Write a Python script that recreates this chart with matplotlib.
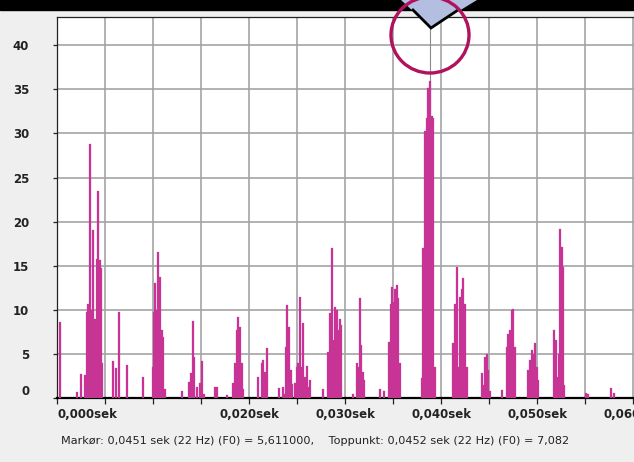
import matplotlib
matplotlib.use("Agg")
import matplotlib.pyplot as plt
from matplotlib.patches import Ellipse, Polygon, Rectangle
from matplotlib.transforms import ScaledTranslation
import numpy as np

# ---- data (time in ms, amplitude) ----
times_ms = [0.28, 2.08, 2.47, 2.92, 3.09, 3.26, 3.44, 3.61, 3.78, 3.96, 4.14, 4.30, 4.45, 4.61, 4.72,
            5.86, 6.15, 6.46, 7.32, 8.93,
            9.97, 10.10, 10.21, 10.39, 10.55, 10.73, 10.91, 11.07, 11.25,
            13.05, 13.75, 13.93, 14.14, 14.30, 14.55, 14.90, 15.14, 15.34, 16.46, 16.64, 17.68,
            18.36, 18.54, 18.72, 18.89, 19.06, 19.24, 19.41,
            20.97, 21.32, 21.49, 21.67, 21.84,
            23.16, 23.51, 23.68, 23.82, 23.99, 24.17, 24.34, 24.48, 24.79, 24.97, 25.14, 25.31, 25.49,
            25.66, 25.83, 26.04, 26.18, 26.39,
            27.74, 28.26, 28.44, 28.61, 28.78, 28.96, 29.14, 29.30, 29.48, 29.64,
            30.86, 31.22, 31.39, 31.56, 31.67, 31.84, 31.98,
            33.65, 34.09, 34.61, 34.76, 34.90, 35.03, 35.24, 35.39, 35.55, 35.73,
            37.99, 38.16, 38.33, 38.51, 38.68, 38.85, 39.03, 39.20, 39.38,
            41.28, 41.46, 41.64, 41.80, 41.98, 42.16, 42.32, 42.50, 42.68,
            44.24, 44.41, 44.58, 44.76, 44.93, 45.10,
            46.32, 46.84, 47.01, 47.19, 47.36, 47.53, 47.71,
            49.09, 49.27, 49.45, 49.61, 49.79, 49.97, 50.14,
            51.77, 51.95, 52.11, 52.29, 52.40, 52.57, 52.68, 52.81,
            55.10, 55.34, 57.71, 58.05, 60.31, 60.49, 60.66]
amps = [8.6, 0.7, 2.7, 2.6, 9.8, 10.7, 28.8, 10.0, 19.1, 9.0, 15.8, 23.5, 15.6, 14.7, 4.0,
        4.2, 3.4, 9.8, 3.7, 2.4,
        3.5, 9.7, 13.0, 10.0, 16.6, 13.7, 7.7, 6.9, 1.0,
        0.8, 1.8, 2.8, 8.7, 4.7, 1.2, 1.7, 4.2, 0.5, 1.2, 1.2, 0.3,
        1.7, 4.0, 7.7, 9.2, 8.0, 4.0, 1.0,
        2.4, 4.0, 4.3, 3.0, 5.7,
        1.1, 1.2, 0.5, 5.8, 10.6, 8.0, 3.2, 1.6, 1.7, 3.5, 4.0, 11.4, 3.5,
        8.5, 2.4, 3.6, 1.2, 2.0,
        1.0, 5.2, 9.6, 17.0, 6.6, 10.3, 10.0, 7.7, 9.0, 8.3,
        0.5, 4.0, 3.5, 11.3, 6.0, 3.0, 2.0,
        1.0, 0.8, 6.3, 10.7, 12.6, 10.9, 12.4, 12.8, 11.3, 4.0,
        2.3, 17.0, 30.3, 31.8, 35.2, 36.0, 32.0, 31.8, 3.5,
        6.2, 10.7, 14.8, 3.5, 11.4, 12.4, 13.6, 10.7, 3.5,
        2.8, 1.5, 4.7, 5.0, 3.2, 0.8,
        0.9, 5.8, 7.3, 7.7, 10.0, 10.1, 5.8,
        3.2, 4.3, 5.4, 5.0, 6.2, 3.5, 2.0,
        7.7, 6.6, 2.4, 5.0, 19.2, 17.1, 14.8, 1.5,
        0.6, 0.5, 1.1, 0.6, 6.6, 5.8, 4.0]

y_ticks = [0, 5, 10, 15, 20, 25, 30, 35, 40]
x_ticks = [0.000, 0.005, 0.010, 0.015, 0.020, 0.025, 0.030, 0.035, 0.040, 0.045, 0.050, 0.055, 0.060]
x_labels = ["0,000sek", "", "", "", "0,020sek", "", "0,030sek", "", "0,040sek", "", "0,050sek", "", "0,060sek"]
marker_time = 0.03885
status_text = "Markør: 0,0451 sek (22 Hz) (F0) = 5,611000,    Toppunkt: 0,0452 sek (22 Hz) (F0) = 7,082"

W, H = 634, 462
fig = plt.figure(figsize=(W / 100, H / 100), dpi=100, facecolor="#efefef")

L, T, B = 57, 17, 398
ax = fig.add_axes([L / W, 1 - B / H, (W - L) / W, (B - T) / H])
ax.set_facecolor("white")

t = np.array(times_ms) / 1000.0
ax.bar(t, amps, width=0.00019, color="#d22b98", edgecolor="#a5588c", linewidth=0.2, zorder=3)

ax.axvline(marker_time, color="#8c8c8c", lw=0.8, zorder=2.5)

ax.set_xlim(0, 0.0601)
ax.set_ylim(0, 43.2)
ax.set_yticks(y_ticks)
ax.set_yticklabels([str(v) for v in y_ticks])
ax.set_xticks(x_ticks)
ax.set_xticklabels(x_labels)
ax.grid(True, color="#a4a4a4", lw=1.2, zorder=1)
ax.set_axisbelow(True)

ax.spines["right"].set_visible(False)
ax.spines["top"].set_color("#222222")
ax.spines["top"].set_linewidth(0.9)
ax.spines["left"].set_color("#222222")
ax.spines["left"].set_linewidth(0.9)
ax.spines["bottom"].set_color("black")
ax.spines["bottom"].set_linewidth(1.6)

ax.tick_params(axis="y", direction="out", length=3, width=0.9, pad=17, labelsize=8.5, colors="#222222")
ax.tick_params(axis="x", direction="out", length=4, width=0.9, pad=3, labelsize=8.5, colors="#222222")
for lab in ax.get_yticklabels() + ax.get_xticklabels():
    lab.set_fontweight("bold")
ax.xaxis.get_major_ticks()[0].label1.set_horizontalalignment("left")
zlab = ax.yaxis.get_major_ticks()[0].label1
zlab.set_transform(zlab.get_transform() + ScaledTranslation(0, 8 / 100, fig.dpi_scale_trans))

fig.text(61 / W, 1 - 441 / H, status_text, fontsize=8.1, color="#222222", va="center", ha="left")

# overlay decorations in pixel coords
ov = fig.add_axes([0, 0, 1, 1], zorder=10)
ov.set_xlim(0, W)
ov.set_ylim(H, 0)
ov.axis("off")
ov.patch.set_alpha(0)
ov.add_patch(Rectangle((0, 0), W, 10, color="black", zorder=1))
ov.add_patch(Polygon([(401, 0), (477, 0), (431, 28)], closed=True, facecolor="#b3bee0", edgecolor="none", zorder=2))
ov.plot([413, 431, 458], [10, 28, 10], color="black", lw=2, zorder=3, solid_joinstyle="miter")
ov.add_patch(Ellipse((430, 35), 78, 76, fill=False, edgecolor="#b0125d", lw=2.4, zorder=4))

fig.savefig("out.png", dpi=100, facecolor=fig.get_facecolor())
